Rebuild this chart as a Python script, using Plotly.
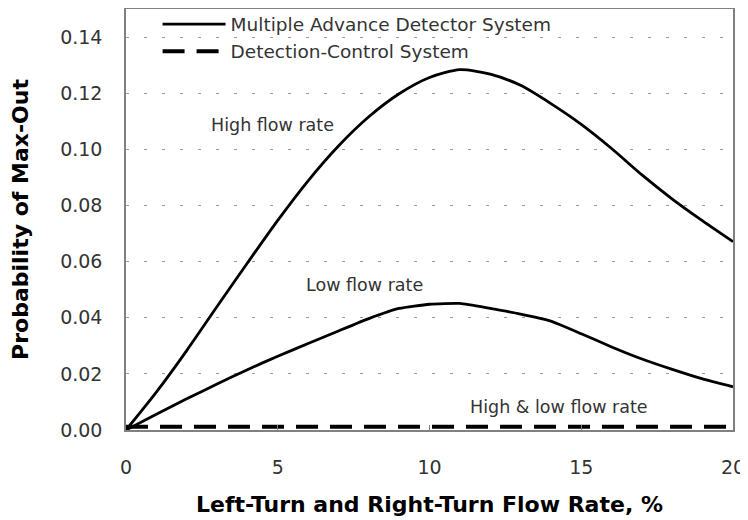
import plotly.graph_objects as go

x_rate = list(range(0, 21))
high_flow = [0, 0.0135, 0.0283, 0.0440, 0.0595, 0.0747, 0.0888, 0.1012, 0.1116, 0.1198,
             0.1256, 0.1284, 0.1268, 0.1228, 0.1163, 0.1089, 0.1003, 0.0909, 0.0823,
             0.0745, 0.0671]
low_flow = [0, 0.0056, 0.0111, 0.0164, 0.0215, 0.0263, 0.0308, 0.0353, 0.0397, 0.0433,
            0.0448, 0.0451, 0.0433, 0.0413, 0.0388, 0.0343, 0.0296, 0.0253, 0.0216,
            0.0182, 0.0154]
detection_control = [0.0012] * 21

y_ticks = [0, 0.02, 0.04, 0.06, 0.08, 0.10, 0.12, 0.14]
x_ticks = [0, 5, 10, 15, 20]

FONT = "DejaVu Sans"
TXT = "#333333"

fig = go.Figure()
fig.add_trace(go.Scatter(x=x_rate, y=high_flow, mode="lines",
                         name="Multiple Advance Detector System",
                         line=dict(color="black", width=2.8, shape="spline", smoothing=0.7),
                         legendgroup="a"))
fig.add_trace(go.Scatter(x=x_rate, y=low_flow, mode="lines", showlegend=False,
                         line=dict(color="black", width=2.8, shape="spline", smoothing=0.5),
                         legendgroup="a"))
fig.add_trace(go.Scatter(x=x_rate, y=detection_control, mode="lines",
                         name="Detection-Control System",
                         line=dict(color="black", width=4, dash="22px,12px")))

annots = [("High flow rate", 4.84, 0.1087), ("Low flow rate", 7.87, 0.0517),
          ("High & low flow rate", 14.28, 0.0082)]
for t, ax, ay in annots:
    fig.add_annotation(x=ax, y=ay, text=t, showarrow=False,
                       font=dict(family=FONT, size=17.5, color=TXT))

fig.update_layout(
    width=740, height=512,
    margin=dict(l=118, r=15, t=1, b=90, autoexpand=False),
    paper_bgcolor="white", plot_bgcolor="white",
    font=dict(family=FONT, color=TXT),
    showlegend=True,
    legend=dict(x=0.052, y=1.008, xanchor="left", yanchor="top",
                bgcolor="rgba(0,0,0,0)", font=dict(family=FONT, size=18.5, color=TXT),
                itemwidth=63, tracegroupgap=0),
)
fig.update_xaxes(range=[0, 20], tickvals=x_ticks, ticktext=[str(v) for v in x_ticks],
                 showgrid=False, zeroline=False,
                 showline=True, linecolor="#808080", linewidth=1.5, mirror=True,
                 ticks="inside", ticklen=5, tickcolor="#808080",
                 ticklabeloverflow="allow", ticklabelstandoff=19,
                 tickfont=dict(family=FONT, size=19, color=TXT),
                 title=dict(text="Left-Turn and Right-Turn Flow Rate, %",
                            font=dict(family="DejaVu Sans", size=22, color="black", weight="bold"),
                            standoff=20))
fig.update_yaxes(range=[0, 0.15], tickvals=y_ticks, ticktext=[f"{v:.2f}" for v in y_ticks],
                 showgrid=True, gridcolor="#9a9a9a", gridwidth=1, griddash="3px,15px",
                 zeroline=False,
                 showline=True, linecolor="#808080", linewidth=1.5, mirror=True,
                 ticks="", ticklabelstandoff=18,
                 tickfont=dict(family=FONT, size=19, color=TXT),
                 title=dict(text="Probability of Max-Out",
                            font=dict(family="DejaVu Sans", size=22, color="black", weight="bold"),
                            standoff=25))

fig.write_html("out.html")
